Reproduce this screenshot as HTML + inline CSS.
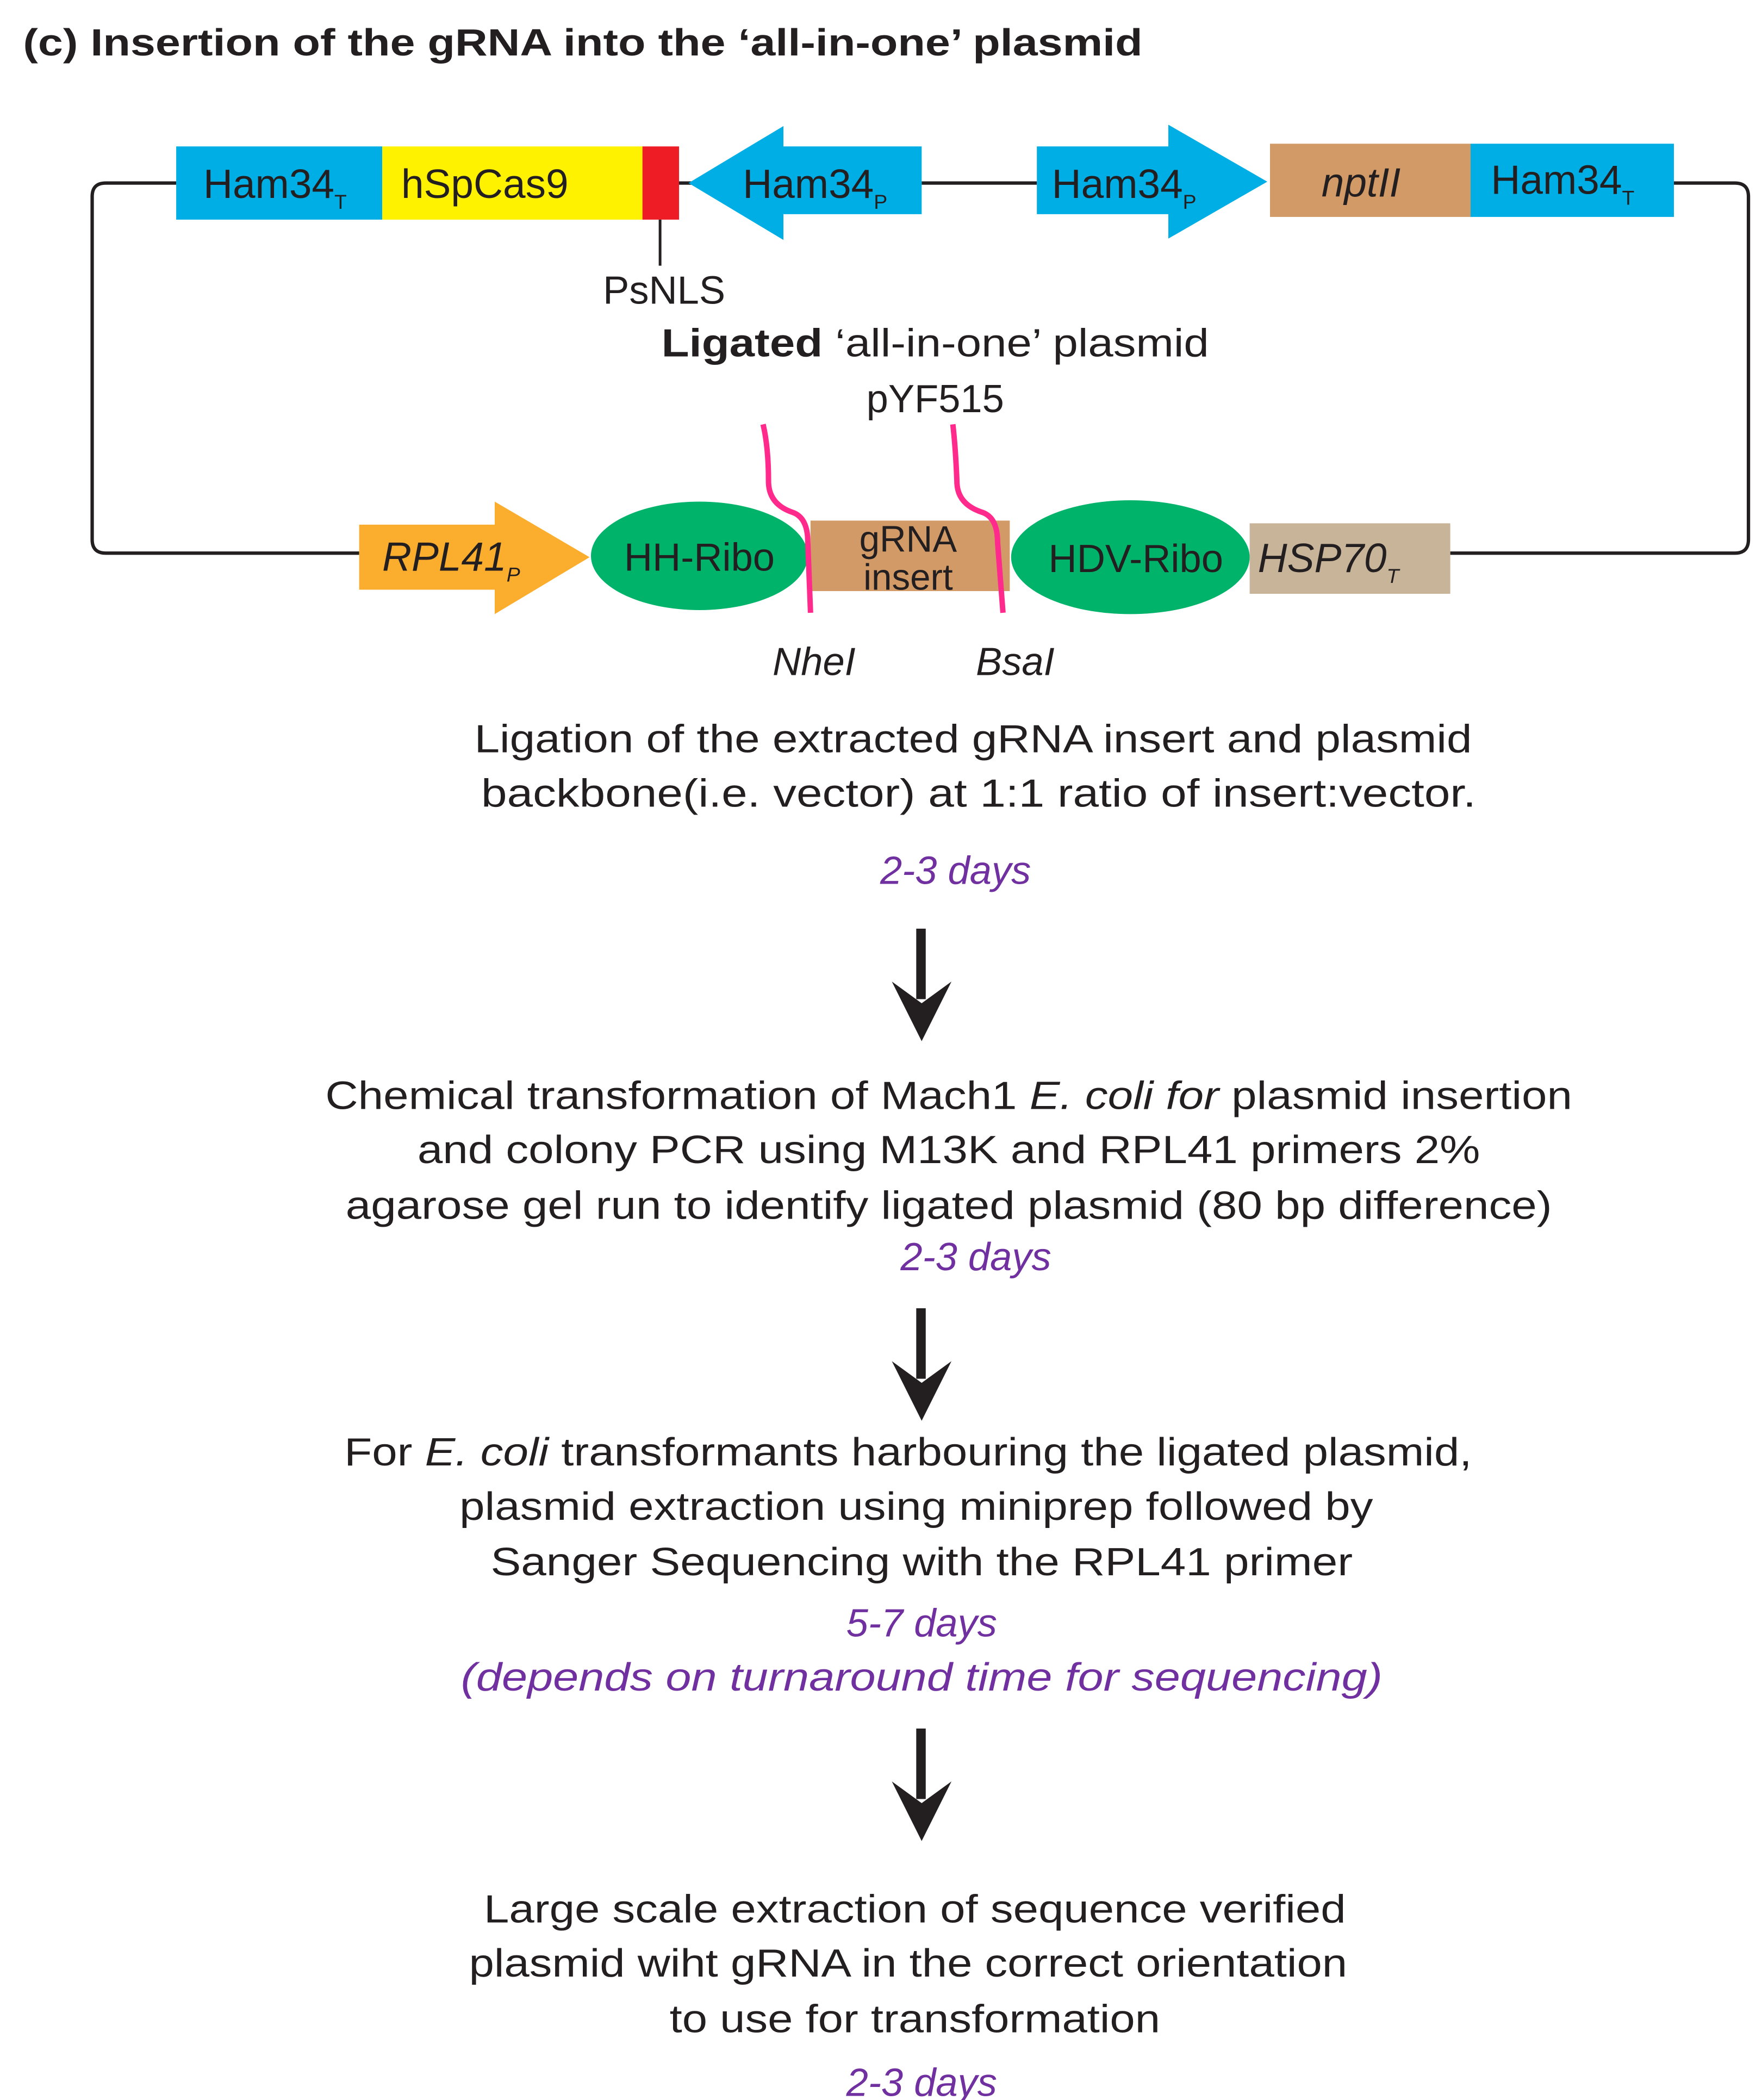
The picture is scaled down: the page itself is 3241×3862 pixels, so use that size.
<!DOCTYPE html>
<html><head><meta charset="utf-8"><style>
html,body{margin:0;padding:0;background:#fff}
svg{display:block}
text{font-family:"Liberation Sans",Arial,sans-serif;fill:#231f20}
.p{fill:#7030a0;font-style:italic}
</style></head><body>
<svg width="3241" height="3862" viewBox="0 0 1300 1549" preserveAspectRatio="none" xmlns="http://www.w3.org/2000/svg">
<rect width="1300" height="1549" fill="#fff"/>
<text x="17" y="41" font-size="28" font-weight="bold" textLength="826" lengthAdjust="spacingAndGlyphs">(c) Insertion of the gRNA into the ‘all-in-one’ plasmid</text>

<path d="M130 135 H78 Q68 135 68 145 V398 Q68 408 78 408 H265 M1235 135 H1280 Q1290 135 1290 145 V398 Q1290 408 1280 408 H1070 M500 135 H512 M680 135 H765" fill="none" stroke="#231f20" stroke-width="2.5"/>

<rect x="130" y="108" width="152" height="54" fill="#00aee6"/>
<rect x="282" y="108" width="192" height="54" fill="#fff200"/>
<rect x="474" y="108" width="27" height="54" fill="#ee1c25"/>
<polygon points="508,135 578,93 578,108 680,108 680,158 578,158 578,177" fill="#00aee6"/>
<polygon points="765,108 862,108 862,92 935,134 862,176 862,158 765,158" fill="#00aee6"/>
<rect x="937" y="106" width="148" height="54" fill="#d19a66"/>
<rect x="1085" y="106" width="150" height="54" fill="#00aee6"/>
<text x="150" y="146" font-size="30">Ham34<tspan font-size="15" dy="8">T</tspan></text>
<text x="296" y="146" font-size="30">hSpCas9</text>
<text x="548" y="146" font-size="30">Ham34<tspan font-size="15" dy="8">P</tspan></text>
<text x="776" y="146" font-size="30">Ham34<tspan font-size="15" dy="8">P</tspan></text>
<text x="975" y="145" font-size="30" font-style="italic">nptII</text>
<text x="1100" y="143" font-size="30">Ham34<tspan font-size="15" dy="8">T</tspan></text>
<line x1="487" y1="162" x2="487" y2="196" stroke="#231f20" stroke-width="2"/>
<text x="490" y="224" font-size="29" text-anchor="middle">PsNLS</text>
<text x="690" y="263" font-size="29" text-anchor="middle" textLength="404" lengthAdjust="spacingAndGlyphs"><tspan font-weight="bold">Ligated</tspan> ‘all-in-one’ plasmid</text>
<text x="690" y="304" font-size="29" text-anchor="middle">pYF515</text>

<polygon points="265,387 365,387 365,370 435,411 365,453 365,435 265,435" fill="#fbad2e"/>
<ellipse cx="516" cy="410" rx="80" ry="40" fill="#00b36b"/>
<rect x="598" y="384" width="147" height="52" fill="#d19a66"/>
<ellipse cx="834" cy="411" rx="88" ry="42" fill="#00b36b"/>
<rect x="922" y="386" width="148" height="52" fill="#c8b499"/>
<text x="282" y="421" font-size="30" font-style="italic">RPL41<tspan font-size="15" dy="8">P</tspan></text>
<text x="516" y="421" font-size="29" text-anchor="middle">HH-Ribo</text>
<text x="670" y="407" font-size="27" text-anchor="middle">gRNA</text>
<text x="670" y="435" font-size="27" text-anchor="middle">insert</text>
<text x="838" y="422" font-size="29" text-anchor="middle">HDV-Ribo</text>
<text x="928" y="422" font-size="30" font-style="italic">HSP70<tspan font-size="15" dy="8">T</tspan></text>
<path d="M563 313 Q567 330 567 355 Q567 372 585 378 Q596 382 596 400 L598 452" fill="none" stroke="#ff2a8c" stroke-width="4"/>
<path d="M703 313 Q705 330 706 355 Q706 372 725 378 Q736 382 736 400 L740 452" fill="none" stroke="#ff2a8c" stroke-width="4"/>
<text x="570" y="498" font-size="29" font-style="italic">NheI</text>
<text x="720" y="498" font-size="29" font-style="italic">BsaI</text>

<g font-size="29">
<text x="718" y="555" text-anchor="middle" textLength="736" lengthAdjust="spacingAndGlyphs">Ligation of the extracted gRNA insert and plasmid</text>
<text x="722" y="595" text-anchor="middle" textLength="734" lengthAdjust="spacingAndGlyphs">backbone(i.e. vector)  at 1:1 ratio  of insert:vector.</text>
<text class="p" x="705" y="652" text-anchor="middle">2-3 days</text>

<text x="700" y="818" text-anchor="middle" textLength="920" lengthAdjust="spacingAndGlyphs">Chemical transformation of Mach1 <tspan font-style="italic">E. coli for</tspan> plasmid insertion</text>
<text x="700" y="858" text-anchor="middle" textLength="784" lengthAdjust="spacingAndGlyphs">and colony PCR using M13K and RPL41 primers 2%</text>
<text x="700" y="899" text-anchor="middle" textLength="890" lengthAdjust="spacingAndGlyphs">agarose gel run to identify ligated plasmid (80 bp difference)</text>
<text class="p" x="720" y="937" text-anchor="middle">2-3 days</text>

<text x="670" y="1081" text-anchor="middle" textLength="832" lengthAdjust="spacingAndGlyphs">For <tspan font-style="italic">E. coli</tspan> transformants harbouring the ligated plasmid,</text>
<text x="676" y="1121" text-anchor="middle" textLength="674" lengthAdjust="spacingAndGlyphs">plasmid extraction using miniprep followed by</text>
<text x="680" y="1162" text-anchor="middle" textLength="636" lengthAdjust="spacingAndGlyphs">Sanger Sequencing with the RPL41 primer</text>
<text class="p" x="680" y="1207" text-anchor="middle">5-7 days</text>
<text class="p" x="680" y="1247" text-anchor="middle" textLength="680" lengthAdjust="spacingAndGlyphs">(depends on turnaround time  for sequencing)</text>

<text x="675" y="1418" text-anchor="middle" textLength="636" lengthAdjust="spacingAndGlyphs">Large scale extraction of sequence verified</text>
<text x="670" y="1458" text-anchor="middle" textLength="648" lengthAdjust="spacingAndGlyphs">plasmid wiht gRNA in the correct orientation</text>
<text x="675" y="1499" text-anchor="middle" textLength="362" lengthAdjust="spacingAndGlyphs">to use for transformation</text>
<text class="p" x="680" y="1546" text-anchor="middle">2-3 days</text>
</g>

<g fill="#231f20">
<rect x="676" y="685" width="7" height="52"/>
<polygon points="658,724 680,740 702,724 680,768"/>
<rect x="676" y="965" width="7" height="52"/>
<polygon points="658,1004 680,1020 702,1004 680,1048"/>
<rect x="676" y="1275" width="7" height="52"/>
<polygon points="658,1314 680,1330 702,1314 680,1358"/>
</g>
</svg>
</body></html>
